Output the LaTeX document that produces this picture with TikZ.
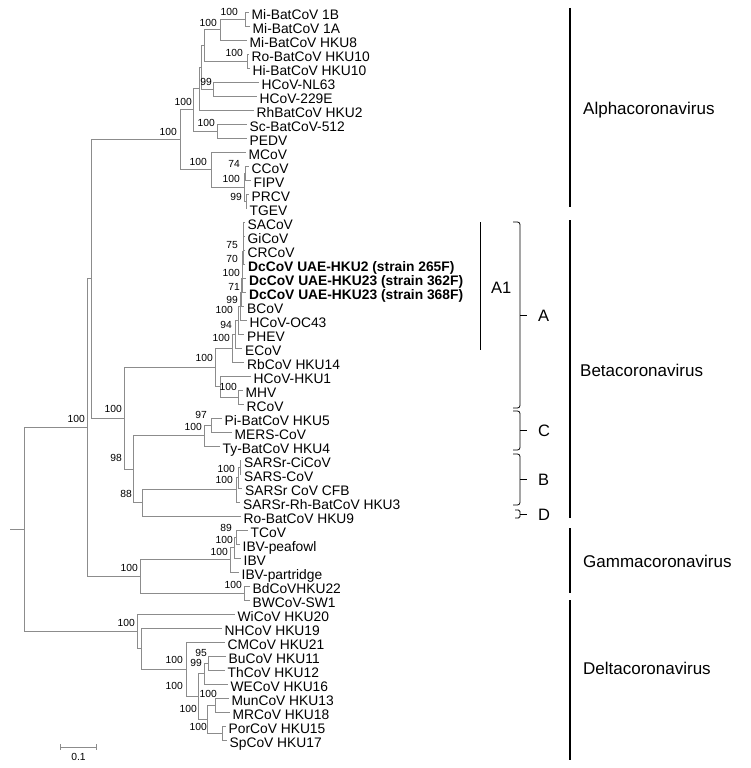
\documentclass[tikz,border=0pt]{standalone}
\usepackage{fontspec}
\setmainfont{Liberation Sans}
\usetikzlibrary{calc}
\definecolor{treegray}{RGB}{140,140,140}
\begin{document}
\begin{tikzpicture}[x=1pt,y=-1pt,
  br/.style={draw=treegray, line width=0.9pt},
  leaf/.style={anchor=base west, inner sep=0pt, font=\fontsize{13.8}{14}\selectfont},
  bleaf/.style={leaf, font=\fontsize{13.8}{14}\selectfont\bfseries},
  bs/.style={anchor=east, inner sep=0pt, font=\fontsize{10.3}{11}\selectfont},
  clade/.style={anchor=west, inner sep=0pt, font=\fontsize{17}{18}\selectfont},
  grp/.style={anchor=west, inner sep=0pt, font=\fontsize{16.5}{18}\selectfont},
  bar/.style={line width=2.7pt, draw=black},
  brk/.style={draw=black, line width=0.8pt, rounded corners=2.5pt},
]
\useasboundingbox (0,0) rectangle (750,768);
% ---------- leaf tips ----------
\coordinate (L1) at (248.5,12);  \coordinate (L2) at (249.5,26);
\coordinate (L3) at (246.5,40);  \coordinate (L4) at (248.5,54);
\coordinate (L5) at (249.5,68);  \coordinate (L6) at (258.5,82);
\coordinate (L7) at (256.5,96);  \coordinate (L8) at (253.5,110);
\coordinate (L9) at (246.5,124); \coordinate (L10) at (246.5,138);
\coordinate (L11) at (245.5,152); \coordinate (L12) at (248.5,166);
\coordinate (L13) at (250.5,180); \coordinate (L14) at (248.5,194);
\coordinate (L15) at (246.5,208); \coordinate (L16) at (244.5,222);
\coordinate (L17) at (244.5,236); \coordinate (L18) at (244.5,250);
\coordinate (L19) at (245,264);   \coordinate (L20) at (246,278);
\coordinate (L21) at (246,292);   \coordinate (L22) at (244,306);
\coordinate (L23) at (246.5,320); \coordinate (L24) at (244,334);
\coordinate (L25) at (242,348);   \coordinate (L26) at (244,362);
\coordinate (L27) at (250.5,376); \coordinate (L28) at (242.5,390);
\coordinate (L29) at (243.5,404); \coordinate (L30) at (221.5,418);
\coordinate (L31) at (231.5,432); \coordinate (L32) at (219.5,446);
\coordinate (L33) at (241,460);   \coordinate (L34) at (241,474);
\coordinate (L35) at (242,488);   \coordinate (L36) at (240,502);
\coordinate (L37) at (240.5,516); \coordinate (L38) at (247.5,530);
\coordinate (L39) at (239.5,544); \coordinate (L40) at (240.5,558);
\coordinate (L41) at (238.5,572); \coordinate (L42) at (249.5,586);
\coordinate (L43) at (249.5,600); \coordinate (L44) at (234.5,614);
\coordinate (L45) at (221.5,628); \coordinate (L46) at (224.5,642);
\coordinate (L47) at (225.5,656); \coordinate (L48) at (224.5,670);
\coordinate (L49) at (227.5,684); \coordinate (L50) at (228.5,698);
\coordinate (L51) at (229.5,712); \coordinate (L52) at (225.5,726);
\coordinate (L53) at (226.5,740);
% ---------- internal nodes ----------
\coordinate (a1) at (245,19);     \coordinate (a2) at (220,29.5);
\coordinate (a3) at (247,61);     \coordinate (a4) at (204,45.25);
\coordinate (a5) at (213,89);     \coordinate (a6) at (201,67.1);
\coordinate (a7) at (199,88.6);   \coordinate (a8) at (217,131);
\coordinate (a9) at (193,109.8);
\coordinate (k1) at (245.5,173);  \coordinate (k2) at (246,201);
\coordinate (k3) at (244,187);    \coordinate (m0) at (211,169.5);
\coordinate (N9) at (180,139.6);
\coordinate (n1) at (243.5,229);  \coordinate (n2) at (243.2,239.5);
\coordinate (n3) at (243,251.75); \coordinate (n4) at (242.7,264.9);
\coordinate (n5) at (242.4,278.4);\coordinate (n6) at (241.5,292.2);
\coordinate (n7) at (240,306.1);  \coordinate (n8) at (238,320.05);
\coordinate (n9) at (235.5,334);  \coordinate (n10) at (232,348);
\coordinate (mr) at (238,397);    \coordinate (h0) at (220,386.5);
\coordinate (ba) at (215,367.25);
\coordinate (c1) at (211,425);    \coordinate (c2) at (204,435.5);
\coordinate (s1) at (240,467);    \coordinate (s2) at (238.5,477.5);
\coordinate (s3) at (236.5,489.75); \coordinate (c4) at (142,502.9);
\coordinate (c3) at (133,469.2);  \coordinate (b0) at (124,418.2);
\coordinate (r3) at (91,278.9);
\coordinate (g1) at (236,537);    \coordinate (g2) at (234.5,547.5);
\coordinate (g3) at (230,559.75); \coordinate (gb) at (244,593);
\coordinate (g0) at (140,576.4);  \coordinate (r2) at (87,427.65);
\coordinate (d6) at (208,663);    \coordinate (d4) at (204,673.5);
\coordinate (d7) at (215,705);    \coordinate (d8) at (222,733);
\coordinate (d5) at (207,719);    \coordinate (d3) at (198,696.25);
\coordinate (d2) at (186,669.1);  \coordinate (d1) at (141,648.6);
\coordinate (d0) at (137,631.3);  \coordinate (root) at (24,529.5);
\coordinate (rootstub) at (10,529.5);
% ---------- branches ----------
\draw[br] (rootstub) -- (root);
\foreach \p/\c in {root/r2, root/d0, r2/r3, r2/g0, r3/N9, r3/b0,
  N9/a9, N9/m0, a9/a7, a9/a8, a7/a6, a7/L8, a6/a4, a6/a5, a4/a2, a4/a3,
  a2/a1, a2/L3, a1/L1, a1/L2, a3/L4, a3/L5, a5/L6, a5/L7, a8/L9, a8/L10,
  m0/L11, m0/k3, k3/k1, k3/k2, k1/L12, k1/L13, k2/L14, k2/L15,
  b0/ba, b0/c3, ba/n10, ba/h0, n10/n9, n10/L26, n9/n8, n9/L25, n8/n7, n8/L24,
  n7/n6, n7/L23, n6/n5, n6/L22, n5/n4, n5/L21, n4/n3, n4/L20, n3/n2, n3/L19,
  n2/n1, n2/L18, n1/L16, n1/L17, h0/L27, h0/mr, mr/L28, mr/L29,
  c3/c2, c3/c4, c2/c1, c2/L32, c1/L30, c1/L31, c4/s3, c4/L37,
  s3/s2, s3/L36, s2/s1, s2/L35, s1/L33, s1/L34,
  g0/g3, g0/gb, g3/g2, g3/L41, g2/g1, g2/L40, g1/L38, g1/L39, gb/L42, gb/L43,
  d0/L44, d0/d1, d1/L45, d1/d2, d2/L46, d2/d3, d3/d4, d3/d5, d4/d6, d4/L49,
  d6/L47, d6/L48, d5/d7, d5/d8, d7/L50, d7/L51, d8/L52, d8/L53}
  \draw[br] (\p) |- (\c);
% ---------- leaf labels ----------
\foreach \l/\t in {L1/Mi-BatCoV 1B, L2/Mi-BatCoV 1A, L3/Mi-BatCoV HKU8,
  L4/Ro-BatCoV HKU10, L5/Hi-BatCoV HKU10, L6/HCoV-NL63, L7/HCoV-229E,
  L8/RhBatCoV HKU2, L9/Sc-BatCoV-512, L10/PEDV, L11/MCoV, L12/CCoV,
  L13/FIPV, L14/PRCV, L15/TGEV, L16/SACoV, L17/GiCoV, L18/CRCoV,
  L22/BCoV, L23/HCoV-OC43, L24/PHEV, L25/ECoV, L26/RbCoV HKU14,
  L27/HCoV-HKU1, L28/MHV, L29/RCoV, L30/Pi-BatCoV HKU5, L31/MERS-CoV,
  L32/Ty-BatCoV HKU4, L33/SARSr-CiCoV, L34/SARS-CoV, L35/SARSr CoV CFB,
  L36/SARSr-Rh-BatCoV HKU3, L37/Ro-BatCoV HKU9, L38/TCoV, L39/IBV-peafowl,
  L40/IBV, L41/IBV-partridge, L42/BdCoVHKU22, L43/BWCoV-SW1,
  L44/WiCoV HKU20, L45/NHCoV HKU19, L46/CMCoV HKU21, L47/BuCoV HKU11,
  L48/ThCoV HKU12, L49/WECoV HKU16, L50/MunCoV HKU13, L51/MRCoV HKU18,
  L52/PorCoV HKU15, L53/SpCoV HKU17}
  \node[leaf] (t\l) at ($(\l)+(3,7.9)$) {\t};
\node[bleaf] (tL19) at ($(L19)+(3,7.9)$) {DcCoV UAE-HKU2 (strain 265F)};
\node[bleaf] (tL20) at ($(L20)+(3,7.9)$) {DcCoV UAE-HKU23 (strain 362F)};
\node[bleaf] (tL21) at ($(L21)+(3,7.9)$) {DcCoV UAE-HKU23 (strain 368F)};
% ---------- bootstrap values ----------
\foreach \n/\x/\y/\v in {ba1/238/12/100, ba2/217/23/100, ba3/243/53/100,
  ba5/212/82/99, ba8/215/123/100, ba9/192/102/100, bN9/177/132/100,
  bm0/207/162/100, bk1/240/164/74, bk3/240/179/100, bk2/242/197/99,
  bn3/238/245/75, bn4/238/259/70, bn5/240/273/100, bn6/240/287/71,
  bn7/238/300/99, bn8/233/310/100, bn9/232/325/94, bn10/230/338/100,
  bba/213/358/100, bmr/237/387/100, bb0/122/409/100, br2/85/419/100,
  bc1/207/415/97, bc2/202/427/100, bc3/122/458/98, bs2/235/469/100,
  bs3/233/480/100, bc4/132/494/88, bg1/232/528/89, bg2/233/540/100,
  bg3/228/552/100, bg0/138/568/100, bgb/242/585/100, bd0/135/623/100,
  bd2/183/660/100, bd3/183/686/100, bd6/207/653/95, bd4/202/663/99,
  bd7/217/694/100, bd5/197/709/100, bd8/207/727/100}
  \node[bs] (\n) at (\x,\y) {\v};
% ---------- scale bar ----------
\coordinate (sb1) at (60,747); \coordinate (sb2) at (96,747);
\draw[br] (sb1) -- (sb2);
\draw[br] ($(sb1)+(0,-3)$) -- ($(sb1)+(0,3)$);
\draw[br] ($(sb2)+(0,-3)$) -- ($(sb2)+(0,3)$);
\node[bs, anchor=center] (sbl) at (78.5,757) {0.1};
% ---------- genus bars ----------
\draw[bar] (570,8) -- (570,207);
\draw[bar] (570,220) -- (570,518);
\draw[bar] (570,528) -- (570,593);
\draw[bar] (570,600) -- (570,760);
\node[clade] (alpha) at (583,110) {Alphacoronavirus};
\node[clade] (beta) at (580,370) {Betacoronavirus};
\node[clade] (gamma) at (583,561) {Gammacoronavirus};
\node[clade] (delta) at (583,668) {Deltacoronavirus};
% ---------- subgroup brackets ----------
\draw[draw=black, line width=0.8pt] (480,222) -- (480,350);
\node[grp] (tA1) at (491,288) {A1};
\draw[brk] (513,222) -- (520,222) -- (520,408) -- (513,408);
\draw[draw=black, line width=0.8pt] (520,315) -- (527,315);
\node[grp] (tA) at (538,316) {A};
\draw[brk] (513,411) -- (520,411) -- (520,450) -- (513,450);
\draw[draw=black, line width=0.8pt] (520,430.5) -- (527,430.5);
\node[grp] (tC) at (538,431) {C};
\draw[brk] (513,454) -- (520,454) -- (520,505) -- (513,505);
\draw[draw=black, line width=0.8pt] (520,479.5) -- (527,479.5);
\node[grp] (tB) at (538,480) {B};
\draw[draw=black, line width=0.8pt, rounded corners=1.5pt] (515,510) -- (520,510) -- (520,518) -- (515,518);
\draw[draw=black, line width=0.8pt] (520,514) -- (527,514);
\node[grp] (tD) at (538,515) {D};
\end{tikzpicture}
\end{document}
